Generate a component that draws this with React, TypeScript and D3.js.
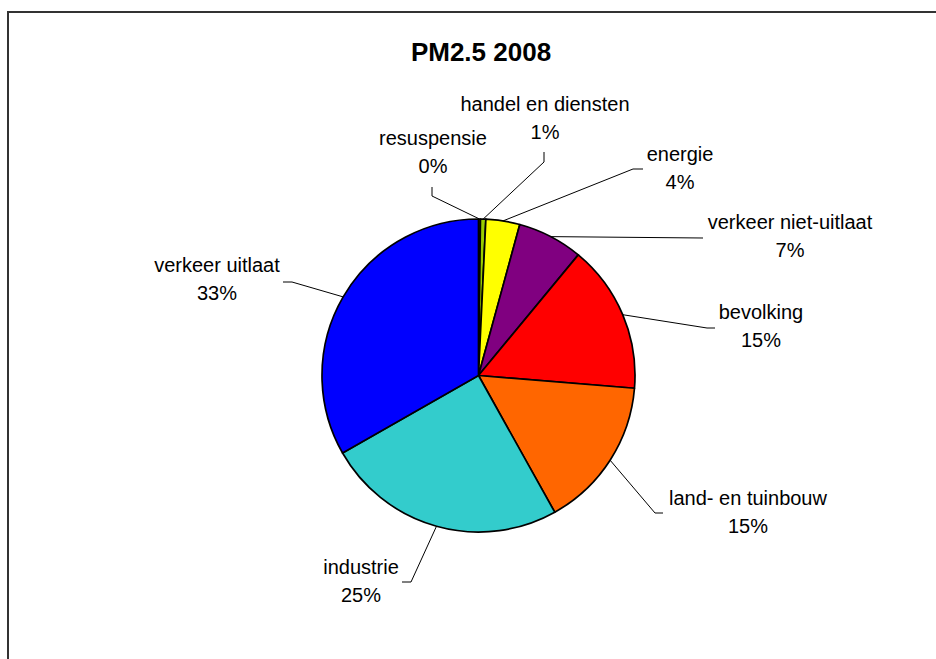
import React from "react";
import * as d3 from "d3";

const categories = [
  "resuspensie",
  "handel en diensten",
  "energie",
  "verkeer niet-uitlaat",
  "bevolking",
  "land- en tuinbouw",
  "industrie",
  "verkeer uitlaat",
];
const values = [0.2, 0.55, 3.5, 6.75, 15.3, 15.6, 24.85, 33.25];
const percentLabels = ["0%", "1%", "4%", "7%", "15%", "15%", "25%", "33%"];
const colors = ["#808000", "#99CC00", "#FFFF00", "#800080", "#FF0000", "#FF6600", "#33CCCC", "#0000FF"];
const title = "PM2.5 2008";

// label layout: text center x, first baseline y, attach point, elbow point
const labelLayout = [
  { tx: 433, ty: 145, ax: 432, ay: 187, ex: 432, ey: 196 },
  { tx: 545, ty: 111, ax: 544, ay: 152, ex: 544, ey: 162 },
  { tx: 680, ty: 161, ax: 643, ay: 169, ex: 633, ey: 169 },
  { tx: 790, ty: 229, ax: 703, ay: 238, ex: 703, ey: 238 },
  { tx: 761, ty: 319, ax: 715, ay: 328, ex: 707, ey: 328 },
  { tx: 748, ty: 505, ax: 663, ay: 513, ex: 655, ey: 513 },
  { tx: 361, ty: 574, ax: 402, ay: 582, ex: 411, ey: 582 },
  { tx: 217, ty: 272, ax: 283, ay: 282, ex: 292, ey: 282 },
];

export default function App() {
  const W = 936;
  const H = 659;
  const cx = 478.5;
  const cy = 375.5;
  const R = 156.5;

  const data = categories.map((c, i) => ({ name: c, value: values[i], i }));
  const pie = d3.pie<any>().sort(null).value((d: any) => d.value);
  const arcs = pie(data);
  const arc = d3.arc<any>().innerRadius(0).outerRadius(R);
  const edge = d3.arc<any>().innerRadius(R).outerRadius(R);

  const font = "Arial, 'Liberation Sans', Helvetica, sans-serif";

  return (
    <svg
      width={W}
      height={H}
      style={{ position: "absolute", left: 0, top: 0, background: "#fff" }}
    >
      <rect x={0} y={0} width={W} height={H} fill="#fff" />
      <path d={`M8,${H + 5} L8,12 L${W + 5},12`} fill="none" stroke="#333" strokeWidth={2} />
      <text
        x={481}
        y={61}
        textAnchor="middle"
        fontFamily={font}
        fontWeight="bold"
        fontSize={26}
        fill="#000"
      >
        {title}
      </text>
      <g transform={`translate(${cx},${cy})`}>
        {arcs.map((a, i) => (
          <path
            key={i}
            d={arc(a) as string}
            fill={colors[i]}
            stroke="#000"
            strokeWidth={1.7}
            strokeLinejoin="round"
          />
        ))}
      </g>
      {arcs.map((a, i) => {
        const [px, py] = edge.centroid(a);
        const L = labelLayout[i];
        return (
          <g key={i}>
            <polyline
              points={`${L.ax},${L.ay} ${L.ex},${L.ey} ${cx + px},${cy + py}`}
              fill="none"
              stroke="#000"
              strokeWidth={1}
            />
            <text
              x={L.tx}
              y={L.ty}
              textAnchor="middle"
              fontFamily={font}
              fontSize={20}
              fill="#000"
            >
              {categories[i]}
            </text>
            <text
              x={L.tx}
              y={L.ty + 28}
              textAnchor="middle"
              fontFamily={font}
              fontSize={20}
              fill="#000"
            >
              {percentLabels[i]}
            </text>
          </g>
        );
      })}
    </svg>
  );
}
